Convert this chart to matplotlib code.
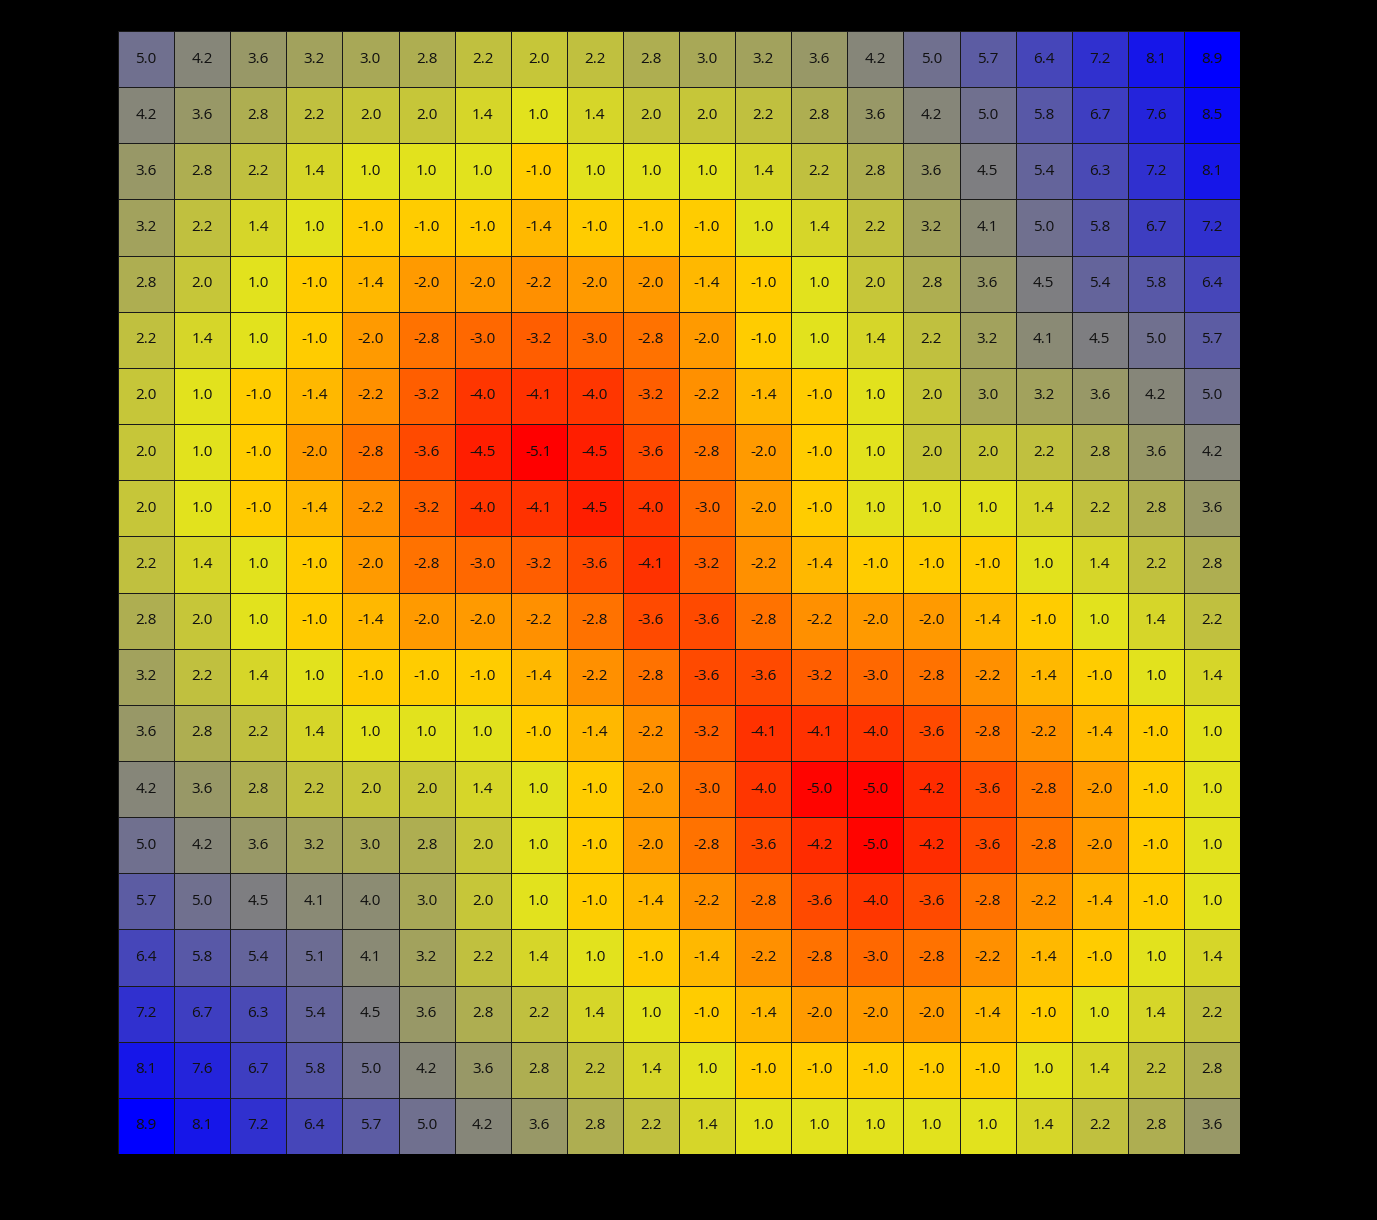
import numpy as np
import matplotlib
matplotlib.use("Agg")
import matplotlib.pyplot as plt
from matplotlib.colors import LinearSegmentedColormap, TwoSlopeNorm

row_00 = [5.0, 4.2, 3.6, 3.2, 3.0, 2.8, 2.2, 2.0, 2.2, 2.8, 3.0, 3.2, 3.6, 4.2, 5.0, 5.7, 6.4, 7.2, 8.1, 8.9]
row_01 = [4.2, 3.6, 2.8, 2.2, 2.0, 2.0, 1.4, 1.0, 1.4, 2.0, 2.0, 2.2, 2.8, 3.6, 4.2, 5.0, 5.8, 6.7, 7.6, 8.5]
row_02 = [3.6, 2.8, 2.2, 1.4, 1.0, 1.0, 1.0, -1.0, 1.0, 1.0, 1.0, 1.4, 2.2, 2.8, 3.6, 4.5, 5.4, 6.3, 7.2, 8.1]
row_03 = [3.2, 2.2, 1.4, 1.0, -1.0, -1.0, -1.0, -1.4, -1.0, -1.0, -1.0, 1.0, 1.4, 2.2, 3.2, 4.1, 5.0, 5.8, 6.7, 7.2]
row_04 = [2.8, 2.0, 1.0, -1.0, -1.4, -2.0, -2.0, -2.2, -2.0, -2.0, -1.4, -1.0, 1.0, 2.0, 2.8, 3.6, 4.5, 5.4, 5.8, 6.4]
row_05 = [2.2, 1.4, 1.0, -1.0, -2.0, -2.8, -3.0, -3.2, -3.0, -2.8, -2.0, -1.0, 1.0, 1.4, 2.2, 3.2, 4.1, 4.5, 5.0, 5.7]
row_06 = [2.0, 1.0, -1.0, -1.4, -2.2, -3.2, -4.0, -4.1, -4.0, -3.2, -2.2, -1.4, -1.0, 1.0, 2.0, 3.0, 3.2, 3.6, 4.2, 5.0]
row_07 = [2.0, 1.0, -1.0, -2.0, -2.8, -3.6, -4.5, -5.1, -4.5, -3.6, -2.8, -2.0, -1.0, 1.0, 2.0, 2.0, 2.2, 2.8, 3.6, 4.2]
row_08 = [2.0, 1.0, -1.0, -1.4, -2.2, -3.2, -4.0, -4.1, -4.5, -4.0, -3.0, -2.0, -1.0, 1.0, 1.0, 1.0, 1.4, 2.2, 2.8, 3.6]
row_09 = [2.2, 1.4, 1.0, -1.0, -2.0, -2.8, -3.0, -3.2, -3.6, -4.1, -3.2, -2.2, -1.4, -1.0, -1.0, -1.0, 1.0, 1.4, 2.2, 2.8]
row_10 = [2.8, 2.0, 1.0, -1.0, -1.4, -2.0, -2.0, -2.2, -2.8, -3.6, -3.6, -2.8, -2.2, -2.0, -2.0, -1.4, -1.0, 1.0, 1.4, 2.2]
row_11 = [3.2, 2.2, 1.4, 1.0, -1.0, -1.0, -1.0, -1.4, -2.2, -2.8, -3.6, -3.6, -3.2, -3.0, -2.8, -2.2, -1.4, -1.0, 1.0, 1.4]
row_12 = [3.6, 2.8, 2.2, 1.4, 1.0, 1.0, 1.0, -1.0, -1.4, -2.2, -3.2, -4.1, -4.1, -4.0, -3.6, -2.8, -2.2, -1.4, -1.0, 1.0]
row_13 = [4.2, 3.6, 2.8, 2.2, 2.0, 2.0, 1.4, 1.0, -1.0, -2.0, -3.0, -4.0, -5.0, -5.0, -4.2, -3.6, -2.8, -2.0, -1.0, 1.0]
row_14 = [5.0, 4.2, 3.6, 3.2, 3.0, 2.8, 2.0, 1.0, -1.0, -2.0, -2.8, -3.6, -4.2, -5.0, -4.2, -3.6, -2.8, -2.0, -1.0, 1.0]
row_15 = [5.7, 5.0, 4.5, 4.1, 4.0, 3.0, 2.0, 1.0, -1.0, -1.4, -2.2, -2.8, -3.6, -4.0, -3.6, -2.8, -2.2, -1.4, -1.0, 1.0]
row_16 = [6.4, 5.8, 5.4, 5.1, 4.1, 3.2, 2.2, 1.4, 1.0, -1.0, -1.4, -2.2, -2.8, -3.0, -2.8, -2.2, -1.4, -1.0, 1.0, 1.4]
row_17 = [7.2, 6.7, 6.3, 5.4, 4.5, 3.6, 2.8, 2.2, 1.4, 1.0, -1.0, -1.4, -2.0, -2.0, -2.0, -1.4, -1.0, 1.0, 1.4, 2.2]
row_18 = [8.1, 7.6, 6.7, 5.8, 5.0, 4.2, 3.6, 2.8, 2.2, 1.4, 1.0, -1.0, -1.0, -1.0, -1.0, -1.0, 1.0, 1.4, 2.2, 2.8]
row_19 = [8.9, 8.1, 7.2, 6.4, 5.7, 5.0, 4.2, 3.6, 2.8, 2.2, 1.4, 1.0, 1.0, 1.0, 1.0, 1.0, 1.4, 2.2, 2.8, 3.6]

rows = [row_00, row_01, row_02, row_03, row_04, row_05, row_06, row_07, row_08, row_09,
        row_10, row_11, row_12, row_13, row_14, row_15, row_16, row_17, row_18, row_19]
Z = np.array(rows)

cmap = LinearSegmentedColormap.from_list("ryb", ["#ff0000", "#ffff00", "#0000ff"])
norm = TwoSlopeNorm(vmin=Z.min(), vcenter=0.0, vmax=Z.max())

fig = plt.figure(figsize=(13.77, 12.20), dpi=100, facecolor="black")
ax = fig.add_axes([118/1377, 1 - 1154/1220, 1122/1377, 1123/1220])
ax.set_facecolor("black")
ny, nx = Z.shape
ax.pcolormesh(np.arange(nx + 1), np.arange(ny + 1), Z, cmap=cmap, norm=norm,
              edgecolors="#1a1a1a", linewidth=0.6)
ax.set_xlim(0, nx)
ax.set_ylim(ny, 0)
for i in range(ny):
    for j in range(nx):
        ax.text(j + 0.5, i + 0.5, f"{Z[i, j]:.1f}", ha="center", va="center",
                fontsize=11, color="#111111", family=["Open Sans", "DejaVu Sans"])
ax.set_xticks([])
ax.set_yticks([])
for s in ax.spines.values():
    s.set_visible(False)

fig.savefig("out.png", dpi=100, facecolor="black")
